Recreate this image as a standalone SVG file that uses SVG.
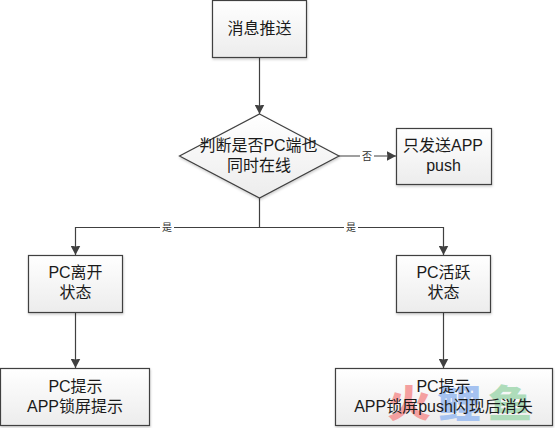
<svg xmlns="http://www.w3.org/2000/svg" width="555" height="428" viewBox="0 0 555 428">
<style>
.n{fill:url(#g);stroke:#404040;stroke-width:1.2}
.t{font-family:"Liberation Sans","Noto Sans CJK SC",sans-serif;font-size:16px;fill:#1a1a1a;text-anchor:middle}
.l{font-family:"Noto Sans CJK SC",sans-serif;font-size:10px;fill:#333;text-anchor:middle}
.c{fill:none;stroke:#404040;stroke-width:1.2}
.w{font-family:"Noto Sans CJK SC",sans-serif;font-weight:900;font-size:38px;text-anchor:middle}
</style>
<defs>
<linearGradient id="g" x1="0" y1="0" x2="0" y2="1"><stop offset="0" stop-color="#ffffff"/><stop offset="1" stop-color="#ececec"/></linearGradient>
<filter id="s" x="-5%" y="-5%" width="110%" height="115%"><feDropShadow dx="0.5" dy="1.500" stdDeviation="1" flood-color="#000" flood-opacity="0.2"/></filter>
<marker id="a" markerUnits="userSpaceOnUse" markerWidth="10" markerHeight="10" refX="9.500" refY="5" orient="auto"><path d="M0 0L9.500 5L0 10L1 5Z" fill="#404040"/></marker>
</defs>
<g id="connectors">
<path class="c" d="M259.500 57V114" marker-end="url(#a)"/>
<path class="c" d="M339 156H396" marker-end="url(#a)"/>
<path class="c" d="M259.500 198V227.500H75.500V255" marker-end="url(#a)"/>
<path class="c" d="M259.500 227.500H443.500V255" marker-end="url(#a)"/>
<path class="c" d="M75.500 312V368" marker-end="url(#a)"/>
<path class="c" d="M443.500 312V368" marker-end="url(#a)"/>
<rect x="360" y="149" width="14" height="14" fill="#fff"/>
<rect x="160" y="221" width="14" height="13" fill="#fff"/>
<rect x="344" y="221" width="14" height="13" fill="#fff"/>
<text class="l" x="367" y="160">否</text>
<text class="l" x="167" y="231">是</text>
<text class="l" x="351" y="231">是</text>
</g>
<g id="n1"><rect class="n" filter="url(#s)" x="212.500" y="0.500" width="94" height="57"/><text class="t" x="259.500" y="34">消息推送</text></g>
<g id="n2"><path class="n" filter="url(#s)" d="M259.500 114L339 156L259.500 198L179.500 156Z"/><text class="t" x="258.500" y="151">判断是否PC端也</text><text class="t" x="259" y="171">同时在线</text></g>
<g id="n3"><rect class="n" filter="url(#s)" x="396.500" y="128.500" width="95" height="56"/><text class="t" x="443" y="151">只发送APP</text><text class="t" x="443.500" y="171">push</text></g>
<g id="n4"><rect class="n" filter="url(#s)" x="28.500" y="255.500" width="94" height="57"/><text class="t" x="75.500" y="278">PC离开</text><text class="t" x="75.500" y="298">状态</text></g>
<g id="n5"><rect class="n" filter="url(#s)" x="396.500" y="255.500" width="94" height="57"/><text class="t" x="443.500" y="278">PC活跃</text><text class="t" x="443.500" y="298">状态</text></g>
<g id="n6"><rect class="n" filter="url(#s)" x="0.500" y="368.500" width="149" height="57"/><text class="t" x="75.500" y="392">PC提示</text><text class="t" x="75" y="412">APP锁屏提示</text></g>
<g id="n7"><rect class="n" filter="url(#s)" x="335.500" y="368.500" width="217" height="57"/>
<text class="w" transform="translate(409 417) scale(1.15 1)" fill="#f4a0a0">火</text><text class="w" transform="translate(459 417) scale(1.15 1)" fill="#a5c2f0">鲤</text><text class="w" transform="translate(510 417) scale(1.15 1)" fill="#aedcba">鱼</text>
<text class="t" x="443.500" y="392">PC提示</text><text class="t" x="443.500" y="412">APP锁屏push闪现后消失</text></g>
</svg>
